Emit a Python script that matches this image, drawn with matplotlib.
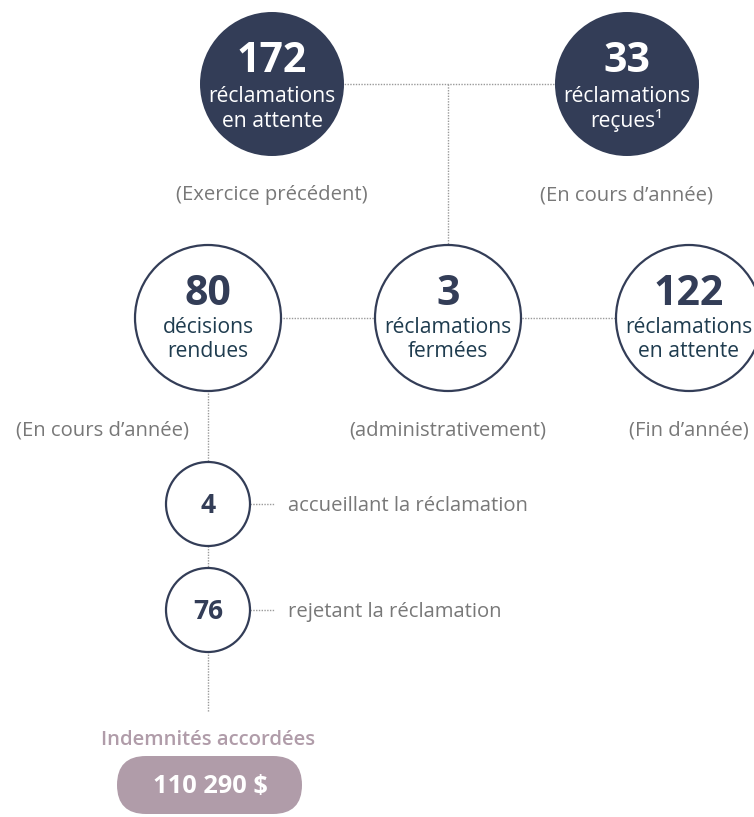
import matplotlib
matplotlib.use("Agg")
import matplotlib.pyplot as plt
from matplotlib.patches import Circle, FancyBboxPatch

plt.rcParams['font.family'] = ['Open Sans', 'DejaVu Sans']

# chart content
top_values = [172, 33]
top_lines = [["réclamations", "en attente"], ["réclamations", "reçues¹"]]
top_notes = ["(Exercice précédent)", "(En cours d’année)"]

mid_values = [80, 3, 122]
mid_lines = [["décisions", "rendues"], ["réclamations", "fermées"], ["réclamations", "en attente"]]
mid_notes = ["(En cours d’année)", "(administrativement)", "(Fin d’année)"]

decision_values = [4, 76]
decision_labels = ["accueillant la réclamation", "rejetant la réclamation"]

award_label = "Indemnités accordées"
award_amount = "110 290 $"

NAVY = "#333d57"
TEAL = "#1f3c4f"
GREY = "#787878"
LINE = "#9a9a9a"
MAUVE = "#b09ca9"

fig = plt.figure(figsize=(7.54, 8.17), dpi=100)
ax = fig.add_axes([0, 0, 1, 1])
ax.set_xlim(0, 754)
ax.set_ylim(817, 0)
ax.set_aspect('equal')
ax.axis('off')


def dotted(xs, ys):
    ax.plot(xs, ys, color=LINE, lw=1, linestyle=(0, (1, 1)), zorder=1)


# connectors
top_x = [272, 627]
mid_x = [208, 448, 689]
dotted([272, 627], [84, 84])
dotted([448, 448], [84, 318])
dotted([208, 689], [318, 318])
dotted([208, 208], [318, 712])
dotted([250, 274], [504, 504])
dotted([250, 274], [610, 610])

BIG = 29.5
SMALL = 15.2
NOTE = 14.6

R = 72
for x, v, lines, note in zip(top_x, top_values, top_lines, top_notes):
    ax.add_patch(Circle((x, 84), R, facecolor=NAVY, edgecolor='none', zorder=2))
    ax.text(x, 72, str(v), color='white', fontsize=BIG, fontweight='bold',
            ha='center', va='baseline', zorder=3)
    ax.text(x, 102, lines[0], color='white', fontsize=SMALL, ha='center', va='baseline', zorder=3)
    ax.text(x, 127, lines[1], color='white', fontsize=SMALL, ha='center', va='baseline', zorder=3)
    ax.text(x, 200, note, color=GREY, fontsize=NOTE, ha='center', va='baseline')

for i, (x, v, lines, note) in enumerate(zip(mid_x, mid_values, mid_lines, mid_notes)):
    ax.add_patch(Circle((x, 318), 73, facecolor='white', edgecolor=NAVY, lw=1.6, zorder=2))
    ax.text(x, 305, str(v), color=NAVY, fontsize=BIG, fontweight='bold',
            ha='center', va='baseline', zorder=3)
    ax.text(x, 333, lines[0], color=TEAL, fontsize=SMALL, ha='center', va='baseline', zorder=3)
    ax.text(x, 357, lines[1], color=TEAL, fontsize=SMALL, ha='center', va='baseline', zorder=3)
    if i == 0:
        ax.text(189, 435, note, color=GREY, fontsize=NOTE, ha='right', va='baseline')
    else:
        ax.text(x, 435, note, color=GREY, fontsize=NOTE, ha='center', va='baseline')

for y, v, lab in zip([504, 610], decision_values, decision_labels):
    ax.add_patch(Circle((208, y), 42, facecolor='white', edgecolor=NAVY, lw=1.6, zorder=2))
    ax.text(208, y + 9, str(v), color=NAVY, fontsize=19, fontweight='bold',
            ha='center', va='baseline', zorder=3)
    ax.text(288, y + 7, lab, color=GREY, fontsize=NOTE, ha='left', va='baseline')

ax.text(208, 745, award_label, color=MAUVE, fontsize=NOTE, fontweight='semibold',
        ha='center', va='baseline')
ax.add_patch(FancyBboxPatch((117, 756), 185, 58,
                            boxstyle="round,pad=0,rounding_size=29",
                            facecolor=MAUVE, edgecolor='none'))
ax.text(210, 793, award_amount, color='white', fontsize=18.3, fontweight='bold',
        ha='center', va='baseline')

fig.savefig("out.png", dpi=100)
